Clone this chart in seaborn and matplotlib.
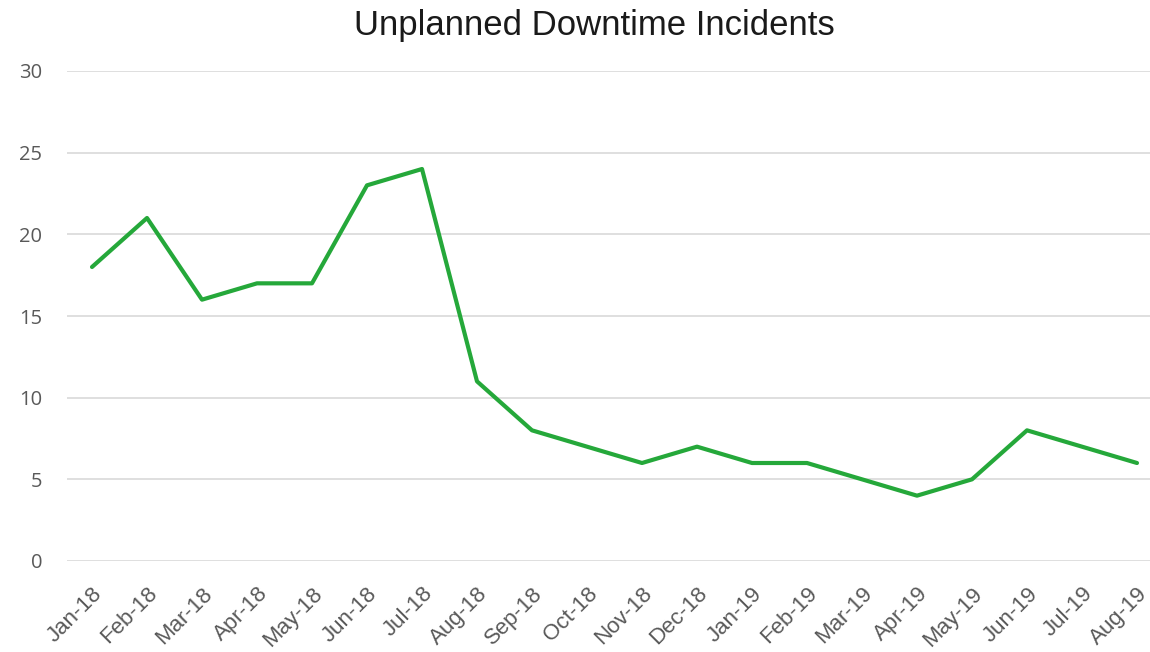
import matplotlib
matplotlib.use("Agg")
import matplotlib.pyplot as plt
import seaborn as sns
import pandas as pd

months = ["Jan-18", "Feb-18", "Mar-18", "Apr-18", "May-18", "Jun-18", "Jul-18",
          "Aug-18", "Sep-18", "Oct-18", "Nov-18", "Dec-18", "Jan-19", "Feb-19",
          "Mar-19", "Apr-19", "May-19", "Jun-19", "Jul-19", "Aug-19"]
incidents = [18, 21, 16, 17, 17, 23, 24, 11, 8, 7, 6, 7, 6, 6, 5, 4, 5, 8, 7, 6]
y_ticks = [0, 5, 10, 15, 20, 25, 30]

sns.set_theme(style="white")
plt.rcParams['font.family'] = ['Open Sans', 'DejaVu Sans']

df = pd.DataFrame({"idx": range(len(months)), "month": months, "incidents": incidents})

fig = plt.figure(figsize=(11.5, 6.52), dpi=100)
ax = fig.add_axes([67/1150, (652-561)/652, 1 - 67/1150, (561-71)/652])

sns.lineplot(data=df, x="idx", y="incidents", ax=ax, color="#25A83A", linewidth=3.0)

ax.set_ylim(0, 30)
ax.set_xlim(-25/55, (1150-92)/55)
ax.set_yticks(y_ticks)
ax.set_yticklabels([str(v) for v in y_ticks], fontsize=14.5, color="#595959")
ax.set_xticks(df["idx"])
ax.set_xticklabels(months, rotation=45, ha="right", rotation_mode="anchor",
                   fontsize=16, color="#595959",
                   family=["Liberation Sans", "DejaVu Sans"])
ax.tick_params(axis="both", length=0)
ax.tick_params(axis="y", pad=18)
ax.tick_params(axis="x", pad=16)
ax.grid(axis="y", color="#D9D9D9", linewidth=1.2)
ax.grid(axis="x", visible=False)
for s in ax.spines.values():
    s.set_visible(False)
ax.set_xlabel("")
ax.set_ylabel("")

fig.text(594/1150, 1 - 25/652, "Unplanned Downtime Incidents", ha="center", va="center",
         fontsize=25, color="#1A1A1A", family=["Liberation Sans", "DejaVu Sans"])

fig.savefig("out.png", dpi=100)
